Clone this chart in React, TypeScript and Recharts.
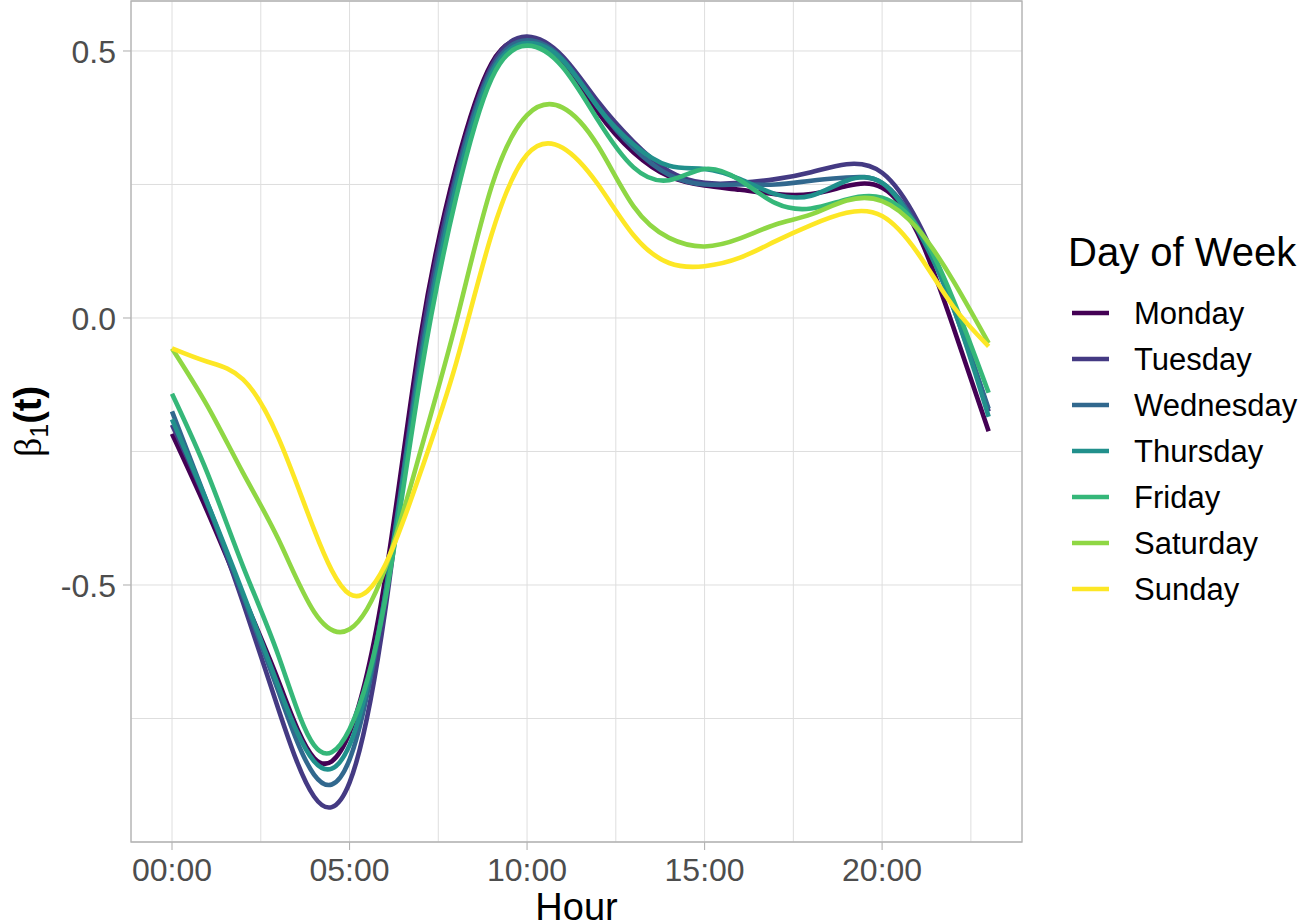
import { LineChart, Line, XAxis, YAxis, CartesianGrid, ReferenceArea, Label } from 'recharts'

const HOURS = [0, 1, 2, 3, 4, 5, 6, 7, 8, 9, 10, 11, 12, 13, 14, 15, 16, 17, 18, 19, 20, 21, 22, 23]

const MONDAY = [-0.217, -0.363, -0.52, -0.68, -0.824, -0.777, -0.49, -0.035, 0.283, 0.477, 0.522, 0.48, 0.385, 0.31, 0.265, 0.248, 0.24, 0.232, 0.232, 0.247, 0.244, 0.159, -0.016, -0.212]
const TUESDAY = [-0.2, -0.35, -0.533, -0.733, -0.896, -0.87, -0.55, -0.055, 0.27, 0.472, 0.527, 0.49, 0.405, 0.33, 0.275, 0.253, 0.253, 0.26, 0.273, 0.288, 0.272, 0.181, 0.025, -0.175]
const WEDNESDAY = [-0.175, -0.347, -0.52, -0.7, -0.855, -0.827, -0.52, -0.075, 0.26, 0.465, 0.52, 0.485, 0.395, 0.318, 0.268, 0.25, 0.25, 0.25, 0.257, 0.263, 0.253, 0.17, 0.02, -0.17]
const THURSDAY = [-0.19, -0.347, -0.515, -0.69, -0.83, -0.8, -0.52, -0.09, 0.245, 0.458, 0.515, 0.483, 0.395, 0.325, 0.285, 0.279, 0.26, 0.232, 0.229, 0.257, 0.253, 0.165, 0.02, -0.185]
const FRIDAY = [-0.142, -0.291, -0.465, -0.633, -0.8, -0.77, -0.53, -0.11, 0.225, 0.448, 0.51, 0.47, 0.37, 0.282, 0.258, 0.279, 0.258, 0.215, 0.205, 0.222, 0.225, 0.17, 0.035, -0.14]
const SATURDAY = [-0.057, -0.165, -0.29, -0.415, -0.55, -0.583, -0.47, -0.249, -0.008, 0.246, 0.38, 0.394, 0.322, 0.209, 0.15, 0.134, 0.149, 0.175, 0.194, 0.22, 0.219, 0.167, 0.07, -0.047]
const SUNDAY = [-0.057, -0.082, -0.115, -0.225, -0.396, -0.517, -0.463, -0.289, -0.085, 0.156, 0.306, 0.319, 0.25, 0.155, 0.103, 0.097, 0.113, 0.144, 0.174, 0.197, 0.191, 0.122, 0.022, -0.053]

const DAYS = ['Monday', 'Tuesday', 'Wednesday', 'Thursday', 'Friday', 'Saturday', 'Sunday']
const SERIES = [MONDAY, TUESDAY, WEDNESDAY, THURSDAY, FRIDAY, SATURDAY, SUNDAY]
// viridis, 7 levels
const COLORS = ['#440154', '#443A83', '#31688E', '#21908C', '#35B779', '#8FD744', '#FDE725']

const X_TICKS = [0, 2.5, 5, 7.5, 10, 12.5, 15, 17.5, 20, 22.5]
const X_LABELED = [0, 5, 10, 15, 20]
const Y_TICKS = [-0.75, -0.5, -0.25, 0, 0.25, 0.5]
const Y_LABELED = [-0.5, 0, 0.5]
const X_DOMAIN = [-1.155, 23.94]
const Y_DOMAIN = [-0.9813, 0.5936]

const FONT = '"Liberation Sans", Arial, sans-serif'
const LINE_W = 4.6

const data = HOURS.map((hour, i) => {
  const row: Record<string, number> = { hour }
  DAYS.forEach((d, j) => {
    row[d] = SERIES[j][i]
  })
  return row
})

const hourLabel = (h: number) => `${String(h).padStart(2, '0')}:00`

function XTick({ x, y, payload }: any) {
  if (!X_LABELED.includes(payload.value)) return <g />
  return (
    <g>
      <line x1={x} x2={x} y1={y - 8} y2={y} stroke="#B3B3B3" strokeWidth={1.1} />
      <text x={x} y={y + 31} textAnchor="middle" fill="#4D4D4D" fontSize={32} fontFamily={FONT}>
        {hourLabel(payload.value)}
      </text>
    </g>
  )
}

function YTick({ x, y, payload }: any) {
  if (!Y_LABELED.includes(payload.value)) return <g />
  return (
    <g>
      <line x1={x + 7} x2={x + 15} y1={y} y2={y} stroke="#B3B3B3" strokeWidth={1.1} />
      <text x={x} y={y} dy="0.36em" textAnchor="end" fill="#4D4D4D" fontSize={32} fontFamily={FONT}>
        {payload.value.toFixed(1)}
      </text>
    </g>
  )
}

function Legend() {
  return (
    <svg width={1299} height={924} style={{ position: 'absolute', left: 0, top: 0, pointerEvents: 'none' }}>
      <text x={1068} y={266} fontSize={40} fontFamily={FONT} fill="#000">
        Day of Week
      </text>
      {DAYS.map((d, i) => {
        const cy = 313 + i * 46
        return (
          <g key={d}>
            <line x1={1072} x2={1109} y1={cy} y2={cy} stroke={COLORS[i]} strokeWidth={LINE_W} />
            <text x={1134} y={cy + 11} fontSize={31} fontFamily={FONT} fill="#000">
              {d}
            </text>
          </g>
        )
      })}
    </svg>
  )
}

export default function App() {
  return (
    <div style={{ position: 'absolute', left: 0, top: 0, width: 1299, height: 924, background: '#fff' }}>
      <LineChart width={1299} height={924} data={data} margin={{ top: 1, right: 277, bottom: 0, left: 0 }}>
        <CartesianGrid stroke="#DEDEDE" strokeWidth={1} />
        <XAxis
          dataKey="hour"
          type="number"
          domain={X_DOMAIN}
          ticks={X_TICKS}
          interval={0}
          height={82}
          axisLine={false}
          tickLine={false}
          tickSize={8}
          tickMargin={0}
          tick={<XTick />}
        >
          <Label
            content={({ viewBox }: any) => (
              <text
                x={viewBox.x + viewBox.width / 2}
                y={viewBox.y + 78}
                textAnchor="middle"
                fontSize={38}
                fontFamily={FONT}
                fill="#000"
              >
                Hour
              </text>
            )}
          />
        </XAxis>
        <YAxis
          type="number"
          domain={Y_DOMAIN}
          ticks={Y_TICKS}
          interval={0}
          width={131}
          axisLine={false}
          tickLine={false}
          tickSize={8}
          tickMargin={7}
          tick={<YTick />}
          allowDataOverflow
        >
          <Label
            content={({ viewBox }: any) => {
              const cx = 41
              const cy = viewBox.y + viewBox.height / 2
              return (
                <text
                  x={cx}
                  y={cy}
                  textAnchor="middle"
                  transform={`rotate(-90, ${cx}, ${cy})`}
                  fontSize={38}
                  fill="#000"
                >
                  <tspan fontFamily='"Liberation Serif", "DejaVu Serif", serif'>β</tspan>
                  <tspan fontFamily={FONT} fontSize={25} dy={7}>1</tspan>
                  <tspan fontFamily={FONT} fontWeight="bold" dy={-7}>(t)</tspan>
                </text>
              )
            }}
          />
        </YAxis>
        {DAYS.map((d, i) => (
          <Line
            key={d}
            type="natural"
            dataKey={d}
            stroke={COLORS[i]}
            strokeWidth={LINE_W}
            dot={false}
            activeDot={false}
            isAnimationActive={false}
          />
        ))}
        <ReferenceArea
          x1={X_DOMAIN[0]}
          x2={X_DOMAIN[1]}
          y1={Y_DOMAIN[0]}
          y2={Y_DOMAIN[1]}
          fill="none"
          fillOpacity={0}
          stroke="#B3B3B3"
          strokeWidth={1.3}
          ifOverflow="visible"
        />
      </LineChart>
      <Legend />
    </div>
  )
}
